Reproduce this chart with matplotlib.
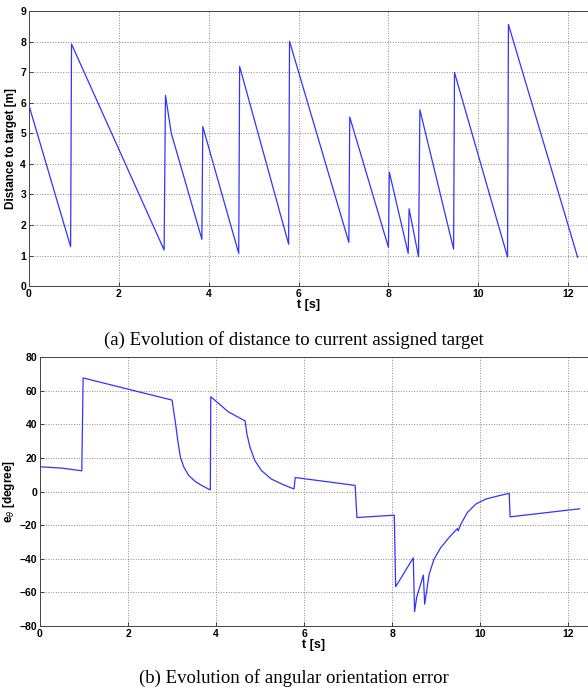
import matplotlib
matplotlib.use('Agg')
import numpy as np
from matplotlib import pyplot as plt

# distance to current target (sawtooth)
t_dist = [0.02, 0.93, 0.95, 3.01, 3.04, 3.17, 3.85, 3.87, 4.67, 4.69, 5.78, 5.80,
          7.12, 7.14, 8.00, 8.02, 8.44, 8.46, 8.67, 8.70, 9.45, 9.47, 10.65, 10.67, 12.21]
dist = [5.83, 1.29, 7.92, 1.18, 6.24, 5.0, 1.53, 5.22, 1.07, 7.19, 1.37, 8.01,
        1.43, 5.53, 1.27, 3.73, 1.07, 2.53, 0.96, 5.77, 1.21, 6.99, 0.95, 8.56, 0.94]

# angular orientation error
t_err = [0.0, 0.5, 0.95, 0.98, 2.0, 3.0, 3.08, 3.13, 3.19, 3.27, 3.38, 3.53, 3.68, 3.87,
         3.88, 4.28, 4.66, 4.70, 4.77, 4.88, 5.03, 5.25, 5.52, 5.77, 5.80, 6.5, 7.16,
         7.2, 8.05, 8.08, 8.48, 8.51, 8.56, 8.71, 8.74, 8.84, 8.95, 9.10, 9.29, 9.48,
         9.50, 9.56, 9.71, 9.90, 10.13, 10.43, 10.66, 10.68, 12.26]
err = [14.8, 14.0, 12.4, 67.7, 61.0, 54.5, 40.5, 30.5, 20.5, 14.5, 9.6, 6.0, 3.6, 1.0,
       56.5, 47.5, 42.1, 34.5, 26.5, 18.6, 12.6, 7.6, 4.2, 1.6, 8.4, 6.0, 3.7,
       -15.4, -14.0, -56.6, -39.4, -71.5, -62.6, -49.7, -67.0, -49.3, -40.3, -33.5,
       -27.4, -22.0, -23.4, -19.4, -12.4, -7.4, -4.4, -2.4, -1.0, -15.0, -10.2]

xticks = [0, 2, 4, 6, 8, 10, 12]

fig = plt.figure(figsize=(5.88, 6.91), dpi=100)
plt.rcParams['font.family'] = 'Liberation Sans'

def style(ax):
    ax.grid(True, linestyle=':', color='#888888', linewidth=0.7)
    ax.tick_params(direction='in', labelsize=7.5, length=3, width=0.5, pad=2)
    for lab in ax.get_xticklabels() + ax.get_yticklabels():
        lab.set_fontweight('bold')
    for s in ax.spines.values():
        s.set_color('#444444')
        s.set_linewidth(0.7)
    ax.spines['right'].set_visible(False)

ax1 = fig.add_axes([0.049, 0.586, 0.951, 0.398])
ax1.plot(t_dist, dist, color='#3333ff', linewidth=0.9)
ax1.set_xlim(0, 12.44)
ax1.set_ylim(0, 9)
ax1.set_xticks(xticks)
ax1.set_yticks(range(0, 10))
style(ax1)
ax1.set_xlabel('t [s]', fontsize=9, fontweight='bold', labelpad=0)
ax1.set_ylabel('Distance to target [m]', fontsize=8.5, fontweight='bold', labelpad=2)

ax2 = fig.add_axes([0.068, 0.094, 0.932, 0.389])
ax2.plot(t_err, err, color='#3333ff', linewidth=0.9)
ax2.set_xlim(0, 12.45)
ax2.set_ylim(-80, 80)
ax2.set_xticks(xticks)
ax2.set_yticks(range(-80, 81, 20))
style(ax2)
ax2.set_xlabel('t [s]', fontsize=9, fontweight='bold', labelpad=0)
ax2.set_ylabel(r'e$_\theta$ [degree]', fontsize=8.5, fontweight='bold', labelpad=2)

fig.text(0.5, 1 - 340 / 691, '(a) Evolution of distance to current assigned target',
         ha='center', va='center', fontsize=13.5, family='Liberation Serif')
fig.text(0.5, 1 - 678 / 691, '(b) Evolution of angular orientation error',
         ha='center', va='center', fontsize=13.5, family='Liberation Serif')

plt.savefig('out.png', dpi=100)
